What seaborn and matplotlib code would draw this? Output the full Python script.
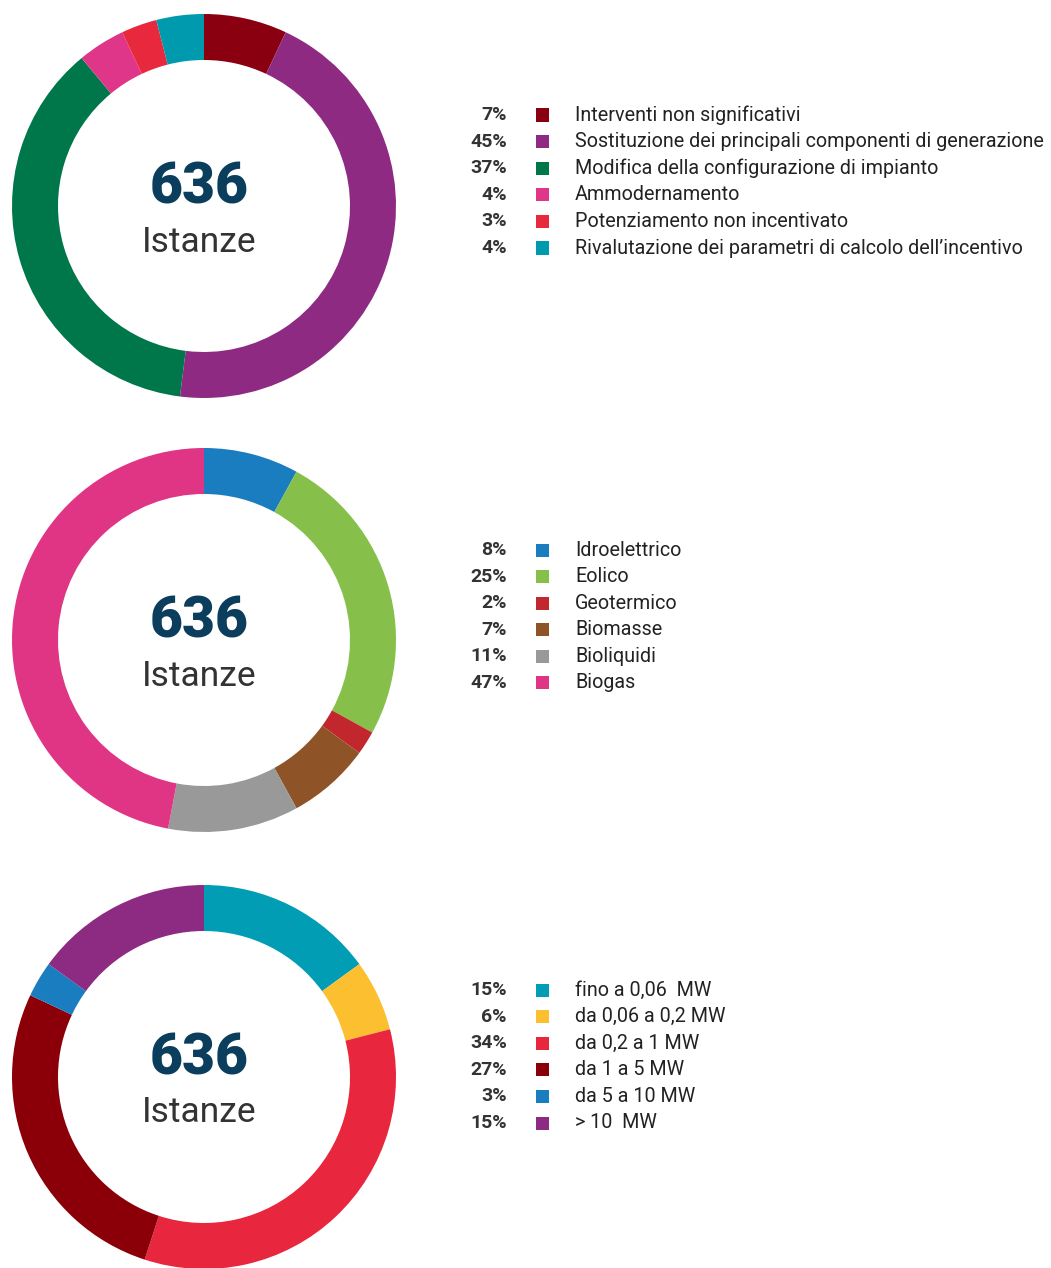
import matplotlib
matplotlib.use("Agg")
import matplotlib.pyplot as plt
import seaborn as sns

sns.set_theme(style="white")
plt.rcParams['font.family'] = ['Roboto', 'DejaVu Sans']

# chart 1: tipologia di intervento
labels_1 = ["Interventi non significativi",
            "Sostituzione dei principali componenti di generazione",
            "Modifica della configurazione di impianto",
            "Ammodernamento",
            "Potenziamento non incentivato",
            "Rivalutazione dei parametri di calcolo dell\u2019incentivo"]
values_1 = [7, 45, 37, 4, 3, 4]
colors_1 = ["#8a0011", "#8e2a82", "#00774a", "#e0368a", "#e8283c", "#009aae"]

# chart 2: fonte
labels_2 = ["Idroelettrico", "Eolico", "Geotermico", "Biomasse", "Bioliquidi", "Biogas"]
values_2 = [8, 25, 2, 7, 11, 47]
colors_2 = ["#1a7dc0", "#86c04a", "#c1272d", "#8e5428", "#999999", "#e03584"]

# chart 3: classe di potenza
labels_3 = ["fino a 0,06  MW", "da 0,06 a 0,2 MW", "da 0,2 a 1 MW",
            "da 1 a 5 MW", "da 5 a 10 MW", "> 10  MW"]
values_3 = [15, 6, 34, 27, 3, 15]
colors_3 = ["#009db5", "#fbbf2f", "#e8263d", "#8b0008", "#1a7dc0", "#8d2a82"]

total = "636"
center_label = "Istanze"

W, H = 1051, 1268
fig = plt.figure(figsize=(W / 100, H / 100), dpi=100)
fig.patch.set_facecolor("white")


def fy(y):
    return 1 - y / H


def donut(cx, cy, values, colors, R=192, ring=46):
    ax = fig.add_axes([(cx - R) / W, (H - cy - R) / H, 2 * R / W, 2 * R / H])
    ax.pie(values, colors=colors, startangle=90, counterclock=False,
           wedgeprops=dict(width=ring / R, edgecolor="none", linewidth=0))
    ax.set_xlim(-1, 1)
    ax.set_ylim(-1, 1)
    ax.set_aspect("equal")
    ax.axis("off")
    fig.text((cx - 5) / W, fy(cy - 18), total, ha="center", va="center",
             fontsize=41, fontweight="black", color="#0b3d5c")
    fig.text((cx - 5) / W, fy(cy + 36), center_label, ha="center", va="center",
             fontsize=25.5, color="#333333")


def legend(y0, labels, values, colors, step=26.6):
    for i, (lab, val, col) in enumerate(zip(labels, values, colors)):
        y = y0 + i * step
        fig.text(507 / W, fy(y), f"{val}%", ha="right", va="center",
                 fontsize=14, fontweight="bold", color="#333333")
        fig.patches.append(plt.Rectangle((536 / W, fy(y + 6.5)), 13 / W, 13 / H,
                                         transform=fig.transFigure,
                                         facecolor=col, edgecolor="none"))
        fig.text(575 / W, fy(y), lab, ha="left", va="center",
                 fontsize=14.2, color="#222222")


donut(204, 206, values_1, colors_1)
legend(115, labels_1, values_1, colors_1)

donut(204, 640, values_2, colors_2)
legend(550, labels_2, values_2, colors_2)

donut(204, 1077, values_3, colors_3)
legend(990, labels_3, values_3, colors_3)

fig.savefig("out.png", dpi=100, facecolor="white")
